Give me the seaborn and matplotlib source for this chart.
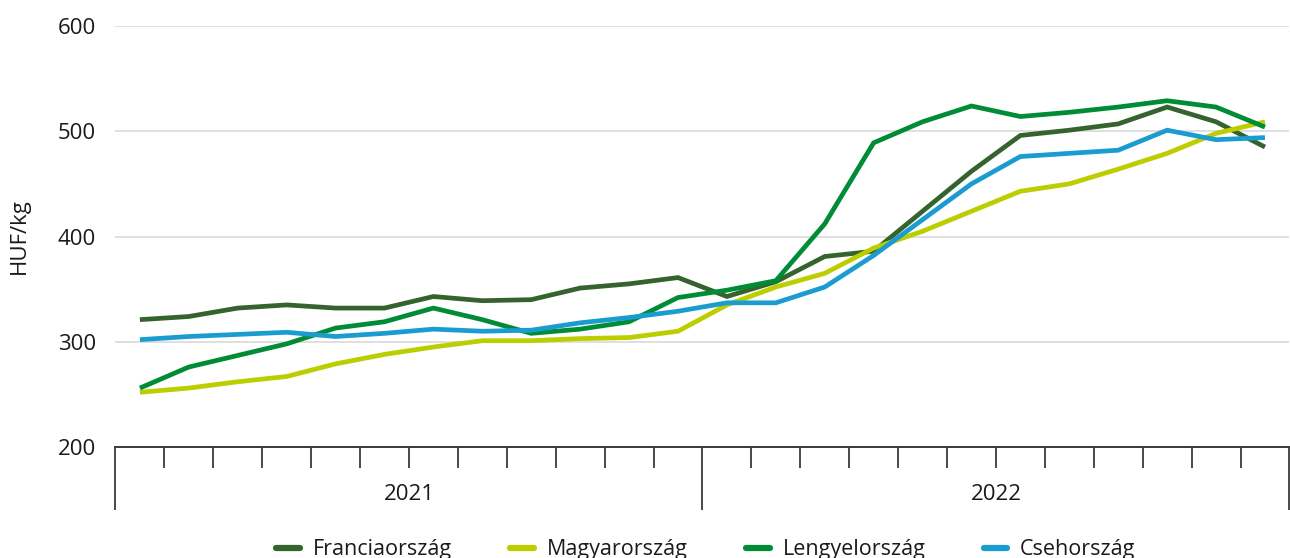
import matplotlib
matplotlib.use("Agg")
import matplotlib.pyplot as plt
import matplotlib.transforms as mtransforms
from matplotlib.lines import Line2D
import numpy as np
import pandas as pd
import seaborn as sns

# ---- data ----
years = ["2021", "2022"]
months_per_year = 12
countries = ["Franciaország", "Magyarország", "Lengyelország", "Csehország"]
franciaorszag = [321, 324, 332, 335, 332, 332, 343, 339, 340, 351, 355, 361,
                 343, 357, 381, 386, 424, 462, 496, 501, 507, 523, 509, 485]
magyarorszag = [252, 256, 262, 267, 279, 288, 295, 301, 301, 303, 304, 310,
                335, 352, 365, 389, 405, 424, 443, 450, 464, 479, 498, 509]
lengyelorszag = [256, 276, 287, 298, 313, 319, 332, 321, 308, 312, 319, 342,
                 349, 358, 412, 489, 509, 524, 514, 518, 523, 529, 523, 504]
csehorszag = [302, 305, 307, 309, 305, 308, 312, 310, 311, 318, 323, 329,
              337, 337, 352, 382, 416, 450, 476, 479, 482, 501, 492, 494]
y_ticks = [200, 300, 400, 500, 600]
y_label = "HUF/kg"

colors = ["#35632d", "#bccd00", "#008c36", "#1b9cd1"]

series = [franciaorszag, magyarorszag, lengyelorszag, csehorszag]
n = len(years) * months_per_year
df = pd.concat([
    pd.DataFrame({"idx": np.arange(n), "value": vals, "country": name})
    for name, vals in zip(countries, series)
], ignore_index=True)

sns.set_style("white")
plt.rcParams["font.family"] = ["Open Sans", "DejaVu Sans"]

fig = plt.figure(figsize=(12.9, 5.58), dpi=100)
ax = fig.add_axes([0.0895, 0.1989, 0.99955 - 0.0895, 0.9534 - 0.1989])

sns.lineplot(data=df, x="idx", y="value", hue="country", hue_order=countries,
             palette=colors, linewidth=3.4, errorbar=None, legend=False,
             ax=ax, solid_capstyle="butt", solid_joinstyle="miter")

ax.set_xlim(-0.5, n - 0.5)
ax.set_ylim(y_ticks[0], y_ticks[-1])
ax.set_yticks(y_ticks)
ax.set_yticklabels([str(v) for v in y_ticks])
ax.tick_params(axis="y", left=False, length=0, pad=14, labelsize=16, labelcolor="#1a1a1a")
ax.set_ylabel(y_label, fontsize=16, labelpad=20, color="#1a1a1a")
ax.set_xlabel("")

ax.grid(axis="y", color="#d9d9d9", linewidth=1.2)
ax.grid(axis="x", visible=False)
for s in ["top", "right", "left"]:
    ax.spines[s].set_visible(False)
ax.spines["bottom"].set_color("#3a3a3a")
ax.spines["bottom"].set_linewidth(1.4)
ax.spines["bottom"].set_zorder(5)

# x ticks: year boundaries (long) and month boundaries (short)
major = [-0.5 + months_per_year * k for k in range(len(years) + 1)]
minor = [-0.5 + k for k in range(1, n) if k % months_per_year != 0]
ax.set_xticks(major)
ax.set_xticklabels([])
ax.set_xticks(minor, minor=True)
ax.tick_params(axis="x", which="both", bottom=True, labelbottom=False)
ax.tick_params(axis="x", which="major", length=45, width=1.2, color="#2a2a2a", direction="out")
ax.tick_params(axis="x", which="minor", length=15, width=1.2, color="#2a2a2a", direction="out")

trans = mtransforms.blended_transform_factory(ax.transData, ax.transAxes)
for i, yr in enumerate(years):
    ax.text(i * months_per_year + (months_per_year - 1) / 2, -0.112, yr,
            transform=trans, ha="center", va="center", fontsize=16, color="#1a1a1a")

handles = [Line2D([0], [0], color=c, linewidth=4.5, solid_capstyle="round") for c in colors]
fig.legend(handles, countries, loc="center", bbox_to_anchor=(706 / 1290, 1 - 550 / 558),
           ncol=4, frameon=False, fontsize=15.5, handlelength=1.1, handletextpad=0.6,
           columnspacing=2.7, labelcolor="#1a1a1a")

fig.savefig("out.png", dpi=100)
